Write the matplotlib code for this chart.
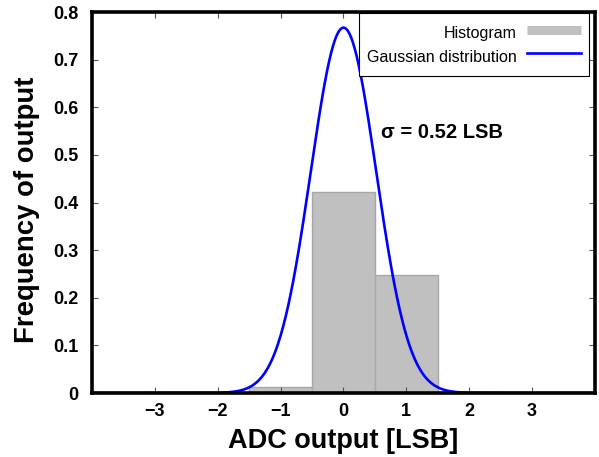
import numpy as np
import matplotlib
matplotlib.use('Agg')
import matplotlib.pyplot as plt
from matplotlib.ticker import FuncFormatter
from matplotlib.lines import Line2D

plt.rcParams['font.family'] = ['Liberation Sans', 'DejaVu Sans']

# histogram of ADC output codes
codes = [-2, -1, 0, 1, 2]
freq = [0.0, 0.013, 0.422, 0.248, 0.003]

# fitted gaussian
mu = 0.0
sigma = 0.52

x_ticks = [-3, -2, -1, 0, 1, 2, 3]
y_ticks = [0, 0.1, 0.2, 0.3, 0.4, 0.5, 0.6, 0.7, 0.8]

fig = plt.figure(figsize=(5.99, 4.57), dpi=100)
ax = fig.add_axes([0.1536, 0.140, 0.8397, 0.8337])

ax.bar(codes, freq, width=1.0, color='#c0c0c0', edgecolor='#a8a8a8',
       linewidth=1.0)

xs = np.linspace(-4, 4, 801)
pdf = np.exp(-(xs - mu) ** 2 / (2 * sigma ** 2)) / (sigma * np.sqrt(2 * np.pi))
ax.plot(xs, pdf, color='#0000ff', linewidth=1.9)

ax.set_xlim(-4, 4)
ax.set_ylim(0, 0.8)
ax.set_xticks(x_ticks)
ax.set_yticks(y_ticks)
ax.xaxis.set_major_formatter(FuncFormatter(lambda v, p: '%d' % v if v >= 0 else '\u2212%d' % -v))
ax.yaxis.set_major_formatter(FuncFormatter(lambda v, p: '0' if v == 0 else '%.1f' % v))
ax.tick_params(direction='in', top=True, right=True, length=4, width=0.8,
               color='#555555', labelsize=13)
ax.tick_params(axis='y', pad=10)
ax.tick_params(axis='x', pad=7)
for lab in ax.get_xticklabels() + ax.get_yticklabels():
    lab.set_fontweight('bold')
for sp in ax.spines.values():
    sp.set_linewidth(2.6)

ax.set_xlabel('ADC output [LSB]', fontsize=19.5, fontweight='bold', labelpad=6)
ax.set_ylabel('Frequency of output', fontsize=19.8, fontweight='bold', labelpad=9, y=0.48)

ax.text(0.6, 0.548, '\u03c3 = 0.52 LSB', fontsize=14.5, fontweight='bold', va='center')

# histogram swatch drawn as a thick flat line so the rows can be tall
handles = [Line2D([], [], color='#c0c0c0', linewidth=6.5, solid_capstyle='butt'),
           Line2D([], [], color='#0000ff', linewidth=1.9)]
leg = ax.legend(handles, ['Histogram', 'Gaussian distribution'],
                loc='upper right', bbox_to_anchor=(0.988, 0.997),
                markerfirst=False, fancybox=False,
                edgecolor='black', framealpha=1, fontsize=11.5,
                handlelength=3.4, handleheight=1.9, handletextpad=0.6,
                borderaxespad=0.0, labelspacing=0.0, borderpad=0.5)
leg.get_frame().set_linewidth(0.8)
for t in leg.get_texts():
    t.set_ha('right')

fig.savefig('out.png', dpi=100)
